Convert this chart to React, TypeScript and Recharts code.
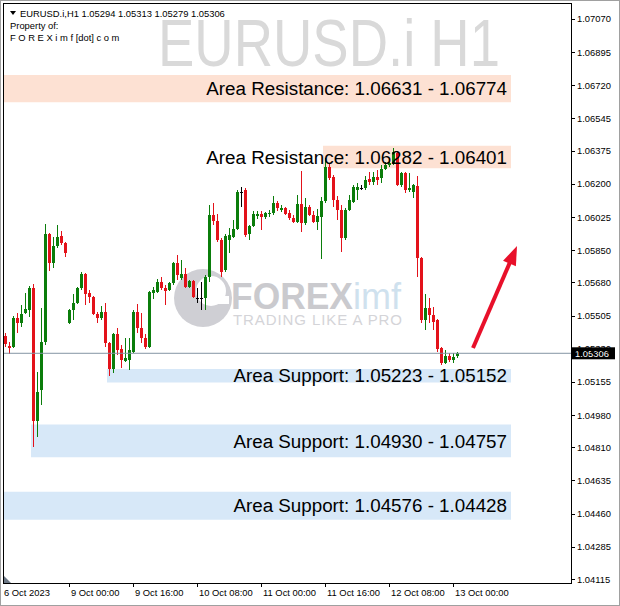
import React from "react";
import {
  ComposedChart,
  Bar,
  XAxis,
  YAxis,
  ReferenceArea,
  ReferenceLine,
} from "recharts";

// EURUSD.i H1, 6 Oct 2023 08:00 .. 13 Oct 2023 01:00
const opens = [
  1.05397, 1.05344, 1.05339, 1.05492, 1.05466, 1.05518, 1.05534, 1.05651, 1.04949, 1.05112,
  1.05365, 1.05936, 1.05782, 1.05872, 1.05925, 1.05888, 1.05466, 1.05534, 1.05571, 1.05651,
  1.05725, 1.05624, 1.05603, 1.05513, 1.05492, 1.05523, 1.05360, 1.05224, 1.05408, 1.05329,
  1.05266, 1.05271, 1.05313, 1.05523, 1.05440, 1.05387, 1.05339, 1.05624, 1.05629, 1.05682,
  1.05651, 1.05640, 1.05677, 1.05782, 1.05704, 1.05725, 1.05656, 1.05688, 1.05598, 1.05598,
  1.05598, 1.05709, 1.06036, 1.06004, 1.05904, 1.05746, 1.05904, 1.05920, 1.05962, 1.06157,
  1.06168, 1.05936, 1.05977, 1.06030, 1.06041, 1.06025, 1.06041, 1.06046, 1.06099, 1.06062,
  1.06073, 1.06046, 1.06020, 1.05999, 1.06094, 1.05993, 1.06078, 1.06036, 1.05999, 1.06025,
  1.06110, 1.06289, 1.06236, 1.06115, 1.06062, 1.05915, 1.06062, 1.06104, 1.06168, 1.06178,
  1.06178, 1.06226, 1.06210, 1.06236, 1.06231, 1.06278, 1.06299, 1.06310, 1.06363, 1.06194,
  1.06257, 1.06168, 1.06157, 1.06189, 1.05809, 1.05482, 1.05545, 1.05508, 1.05482, 1.05334,
  1.05255, 1.05292, 1.05271, 1.05294,
];
const highs = [
  1.05413, 1.05365, 1.05502, 1.05518, 1.05561, 1.05624, 1.05661, 1.05672, 1.05207, 1.05545,
  1.05988, 1.05941, 1.05920, 1.05983, 1.05952, 1.05893, 1.05540, 1.05619, 1.05656, 1.05735,
  1.05730, 1.05640, 1.05608, 1.05523, 1.05555, 1.05571, 1.05365, 1.05413, 1.05440, 1.05350,
  1.05387, 1.05387, 1.05534, 1.05566, 1.05518, 1.05408, 1.05635, 1.05656, 1.05699, 1.05709,
  1.05667, 1.05682, 1.05787, 1.05825, 1.05798, 1.05756, 1.05693, 1.05693, 1.05651, 1.05682,
  1.05719, 1.06089, 1.06099, 1.06041, 1.05915, 1.05936, 1.05967, 1.06009, 1.06168, 1.06184,
  1.06178, 1.05983, 1.06057, 1.06057, 1.06057, 1.06051, 1.06062, 1.06136, 1.06110, 1.06089,
  1.06078, 1.06062, 1.06036, 1.06141, 1.06268, 1.06125, 1.06089, 1.06057, 1.06067, 1.06131,
  1.06337, 1.06310, 1.06247, 1.06136, 1.06089, 1.06073, 1.06141, 1.06194, 1.06205, 1.06194,
  1.06241, 1.06262, 1.06262, 1.06273, 1.06299, 1.06315, 1.06337, 1.06389, 1.06374, 1.06262,
  1.06262, 1.06257, 1.06199, 1.06241, 1.05814, 1.05619, 1.05598, 1.05550, 1.05487, 1.05339,
  1.05323, 1.05308, 1.05308, 1.05313,
];
const lows = [
  1.05339, 1.05302, 1.05334, 1.05413, 1.05445, 1.05513, 1.05497, 1.04811, 1.04864, 1.05034,
  1.05350, 1.05741, 1.05756, 1.05862, 1.05878, 1.05814, 1.05461, 1.05482, 1.05566, 1.05640,
  1.05561, 1.05571, 1.05508, 1.05466, 1.05482, 1.05339, 1.05186, 1.05202, 1.05297, 1.05229,
  1.05260, 1.05218, 1.05308, 1.05413, 1.05360, 1.05329, 1.05334, 1.05593, 1.05624, 1.05640,
  1.05561, 1.05635, 1.05667, 1.05693, 1.05693, 1.05651, 1.05651, 1.05598, 1.05571, 1.05534,
  1.05534, 1.05682, 1.05983, 1.05893, 1.05709, 1.05735, 1.05835, 1.05915, 1.05957, 1.06078,
  1.05920, 1.05904, 1.05972, 1.06014, 1.05957, 1.06014, 1.06025, 1.06036, 1.06057, 1.06051,
  1.06036, 1.06009, 1.05993, 1.05993, 1.05946, 1.05983, 1.06030, 1.05993, 1.05957, 1.05803,
  1.06099, 1.06220, 1.06078, 1.06009, 1.05841, 1.05904, 1.06057, 1.06099, 1.06115, 1.06168,
  1.06168, 1.06194, 1.06194, 1.06194, 1.06205, 1.06273, 1.06289, 1.06299, 1.06189, 1.06184,
  1.06152, 1.06157, 1.06125, 1.05709, 1.05466, 1.05429, 1.05466, 1.05429, 1.05313, 1.05245,
  1.05250, 1.05260, 1.05255, 1.05279,
];
const closes = [
  1.05355, 1.05334, 1.05492, 1.05466, 1.05513, 1.05540, 1.05651, 1.04949, 1.05101, 1.05365,
  1.05936, 1.05782, 1.05872, 1.05920, 1.05888, 1.05835, 1.05534, 1.05571, 1.05651, 1.05725,
  1.05619, 1.05603, 1.05513, 1.05492, 1.05523, 1.05360, 1.05224, 1.05408, 1.05323, 1.05271,
  1.05281, 1.05323, 1.05523, 1.05440, 1.05387, 1.05339, 1.05629, 1.05640, 1.05682, 1.05651,
  1.05635, 1.05677, 1.05782, 1.05719, 1.05725, 1.05656, 1.05688, 1.05603, 1.05598, 1.05598,
  1.05709, 1.06036, 1.06004, 1.05904, 1.05735, 1.05925, 1.05930, 1.05962, 1.06157, 1.06157,
  1.05930, 1.05977, 1.06041, 1.06041, 1.06025, 1.06046, 1.06046, 1.06099, 1.06073, 1.06073,
  1.06041, 1.06020, 1.05999, 1.06094, 1.05993, 1.06078, 1.06036, 1.05999, 1.06030, 1.06110,
  1.06289, 1.06231, 1.06115, 1.06062, 1.05915, 1.06062, 1.06115, 1.06184, 1.06184, 1.06178,
  1.06220, 1.06210, 1.06236, 1.06220, 1.06278, 1.06299, 1.06310, 1.06368, 1.06194, 1.06257,
  1.06168, 1.06178, 1.06194, 1.05809, 1.05482, 1.05545, 1.05508, 1.05471, 1.05329, 1.05255,
  1.05292, 1.05271, 1.05287, 1.05306,
];

// x axis labels (left aligned on their bar)
const xTicks = [
  "6 Oct 08:00", "9 Oct 00:00", "9 Oct 16:00", "10 Oct 08:00",
  "11 Oct 00:00", "11 Oct 16:00", "12 Oct 08:00", "13 Oct 00:00",
];
const xTickLabels = [
  "6 Oct 2023", "9 Oct 00:00", "9 Oct 16:00", "10 Oct 08:00",
  "11 Oct 00:00", "11 Oct 16:00", "12 Oct 08:00", "13 Oct 00:00",
];
const yTicks = [
  1.0707, 1.06895, 1.0672, 1.06545, 1.06375, 1.062, 1.06025, 1.0585, 1.0568,
  1.05505, 1.0533, 1.05155, 1.0498, 1.0481, 1.04635, 1.0446, 1.04285, 1.04115,
];

// support / resistance zones
const zoneNames = ["Area Resistance", "Area Resistance", "Area Support", "Area Support", "Area Support"];
const zoneFrom = [1.06631, 1.06282, 1.05223, 1.0493, 1.04576];
const zoneTo = [1.06774, 1.06401, 1.05152, 1.04757, 1.04428];
const zoneStart = ["6 Oct 08:00", "11 Oct 16:00", "9 Oct 10:00", "6 Oct 15:00", "6 Oct 08:00"];
const zoneEnd = "13 Oct 14:00";

const arrowFrom = { t: "13 Oct 05:00", p: 1.05334 };
const arrowTo = { t: "13 Oct 16:00", p: 1.05872 };

const SLOTS = 142; // chart shift: empty room to the right of the last bar
const GREEN = "#0b7d0b";
const RED = "#e3121a";
const RES_FILL = "#fde1d3";
const SUP_FILL = "#d7e8f8";
const FONT = "'Liberation Sans', Arial, sans-serif";

function barTime(i: number) {
  // Friday from 08:00, weekend skipped, then hourly from Monday 00:00
  if (i < 16) return `6 Oct ${String(8 + i).padStart(2, "0")}:00`;
  const h = i - 16;
  return `${9 + Math.floor(h / 24)} Oct ${String(h % 24).padStart(2, "0")}:00`;
}

const rows = Array.from({ length: SLOTS }, (_, i) => ({
  t: barTime(i),
  o: opens[i],
  h: highs[i],
  l: lows[i],
  c: closes[i],
}));

const last = opens.length - 1;
const lastPrice = closes[last];

function Candle(props: any) {
  const { x, y, width, height, payload } = props;
  if (!payload || payload.o == null) return null;
  const { o, h, l, c } = payload;
  const top = Math.min(y, y + height);
  const hgt = Math.abs(height);
  const span = h - l;
  const pos = (v: number) => (span > 0 ? top + ((h - v) / span) * hgt : top);
  const color = c > o ? GREEN : c < o ? RED : "#000";
  const cx = Math.floor(x + width / 2 + 0.01);
  const bTop = Math.round(pos(Math.max(o, c)));
  const bBot = Math.round(pos(Math.min(o, c)));
  return (
    <g>
      <rect x={cx} y={Math.round(top)} width={1} height={Math.max(1, Math.round(hgt))} fill={color} />
      <rect x={cx - 1} y={bTop} width={3} height={Math.max(1, bBot - bTop)} fill={color} />
    </g>
  );
}

function YTick({ x, y, payload }: any) {
  const yy = Math.round(y) + 0.5;
  return (
    <g>
      <line x1={x} x2={x + 4} y1={yy} y2={yy} stroke="#000" />
      <text x={x + 6} y={y + 3.5} fontSize={9.4} fontFamily={FONT} fill="#000">
        {Number(payload.value).toFixed(5)}
      </text>
    </g>
  );
}

function XTick({ x, y, payload }: any) {
  const k = xTicks.indexOf(payload.value);
  if (k < 0) return null;
  const first = k === 0;
  return (
    <g>
      {!first && <line x1={x + 0.5} x2={x + 0.5} y1={y} y2={y + 4} stroke="#000" />}
      <text x={first ? x - 1 : x + 2} y={y + 12.5} fontSize={9.4} fontFamily={FONT} fill="#000">
        {xTickLabels[k]}
      </text>
    </g>
  );
}

function PriceTag(props: any) {
  const vb = props.viewBox || {};
  const x = vb.x + vb.width + 1;
  const y = vb.y;
  return (
    <g>
      <rect x={x} y={y - 6} width={43} height={12} fill="#000" />
      <text x={x + 3} y={y + 3.5} fontSize={9.4} fontFamily={FONT} fill="#fff">
        {lastPrice.toFixed(5)}
      </text>
    </g>
  );
}

function Arrow(props: any) {
  const { x1, y1, x2, y2 } = props;
  const dx = x2 - x1;
  const dy = y2 - y1;
  const len = Math.sqrt(dx * dx + dy * dy) || 1;
  const ux = dx / len;
  const uy = dy / len;
  const head = 19;
  const half = 7;
  const bx = x2 - ux * head;
  const by = y2 - uy * head;
  const pts = `${x2},${y2} ${bx - uy * half},${by + ux * half} ${bx + uy * half},${by - ux * half}`;
  return (
    <g>
      <line x1={x1} y1={y1} x2={bx + ux * 2} y2={by + uy * 2} stroke="#e8102a" strokeWidth={4} />
      <polygon points={pts} fill="#e8102a" />
    </g>
  );
}

export default function App() {
  return (
    <div
      style={{
        position: "fixed",
        left: 0,
        top: 0,
        width: 620,
        height: 606,
        background: "#fff",
        overflow: "hidden",
      }}
    >
      {/* watermark + logo, behind the candles */}
      <svg width={620} height={606} style={{ position: "absolute", left: 0, top: 0 }}>
        <text
          x={158}
          y={66}
          fontSize={66}
          fontFamily="'Liberation Sans Narrow', 'Liberation Sans', sans-serif"
          fill="#d9d9d9"
          textLength={342}
          lengthAdjust="spacingAndGlyphs"
        >
          EURUSD.i H1
        </text>
        <circle cx={203} cy={298} r={29} fill="#cfcfd4" />
        <circle cx={211} cy={291} r={15} fill="#fff" />
        <rect x={203} y={296} width={26} height={8} fill="#fff" />
        <text x={231} y={309} fontSize={37} fontWeight="bold" fontFamily={FONT} fill="#cacace" textLength={122} lengthAdjust="spacingAndGlyphs">
          FOREX
        </text>
        <text x={353} y={309} fontSize={37} fontFamily={FONT} fill="#cfe1ee" textLength={48} lengthAdjust="spacingAndGlyphs">
          imf
        </text>
        <text x={233} y={325} fontSize={15} fontFamily={FONT} fill="#d4d4d8" textLength={169} lengthAdjust="spacing">
          TRADING LIKE A PRO
        </text>
      </svg>

      <div style={{ position: "absolute", left: 0, top: 0 }}>
        <ComposedChart
          width={620}
          height={606}
          data={rows}
          margin={{ top: 4, right: 3, bottom: 3, left: 3 }}
        >
          <XAxis
            dataKey="t"
            ticks={xTicks}
            interval={0}
            tick={<XTick />}
            tickLine={false}
            axisLine={false}
            tickSize={0}
            tickMargin={0}
            height={20}
          />
          <YAxis
            orientation="right"
            type="number"
            domain={[1.04094, 1.07149]}
            allowDataOverflow
            ticks={yTicks}
            interval={0}
            tick={<YTick />}
            tickLine={false}
            axisLine={false}
            tickSize={0}
            tickMargin={0}
            width={46}
          />
          {zoneNames.map((name, i) => (
            <ReferenceArea
              key={i}
              x1={zoneStart[i]}
              x2={zoneEnd}
              y1={zoneFrom[i]}
              y2={zoneTo[i]}
              fill={name.includes("Resistance") ? RES_FILL : SUP_FILL}
              fillOpacity={1}
              stroke="none"
              label={{
                value: `${name}: ${zoneFrom[i].toFixed(5)} - ${zoneTo[i].toFixed(5)}`,
                position: "insideRight",
                offset: 4,
                fill: "#000",
                fontSize: 18.8,
                fontFamily: FONT,
              }}
            />
          ))}
          <ReferenceLine y={lastPrice} stroke="#8494a4" strokeWidth={1} label={<PriceTag />} />
          <Bar
            dataKey={(d: any) => (d.o == null ? null : [d.l, d.h])}
            barSize={3}
            shape={<Candle />}
            isAnimationActive={false}
          />
          <ReferenceLine
            segment={[
              { x: arrowFrom.t, y: arrowFrom.p },
              { x: arrowTo.t, y: arrowTo.p },
            ]}
            stroke="#e8102a"
            ifOverflow="visible"
            shape={Arrow}
          />
        </ComposedChart>
      </div>

      {/* frame and header */}
      <svg
        width={620}
        height={606}
        style={{ position: "absolute", left: 0, top: 0, pointerEvents: "none" }}
      >
        <rect x={0.5} y={0.5} width={619} height={605} fill="none" stroke="#a0a0a0" />
        <rect x={3.5} y={3.5} width={568} height={580} fill="none" stroke="#000" />
        <polygon points="4,576 4,583 11,583" fill="#6b7785" />
        <polygon points="10,11 16,11 13,15" fill="#000" />
        <text x={20} y={16.5} fontSize={9.4} fontFamily={FONT} fill="#000">
          {`EURUSD.i,H1  ${opens[last].toFixed(5)} ${highs[last].toFixed(5)} ${lows[last].toFixed(5)} ${closes[last].toFixed(5)}`}
        </text>
        <text x={10} y={28.5} fontSize={9.4} fontFamily={FONT} fill="#000">
          Property of:
        </text>
        <text x={10} y={40.5} fontSize={9.4} fontFamily={FONT} fill="#000">
          F O R E X i m f [dot] c o m
        </text>
      </svg>
    </div>
  );
}
